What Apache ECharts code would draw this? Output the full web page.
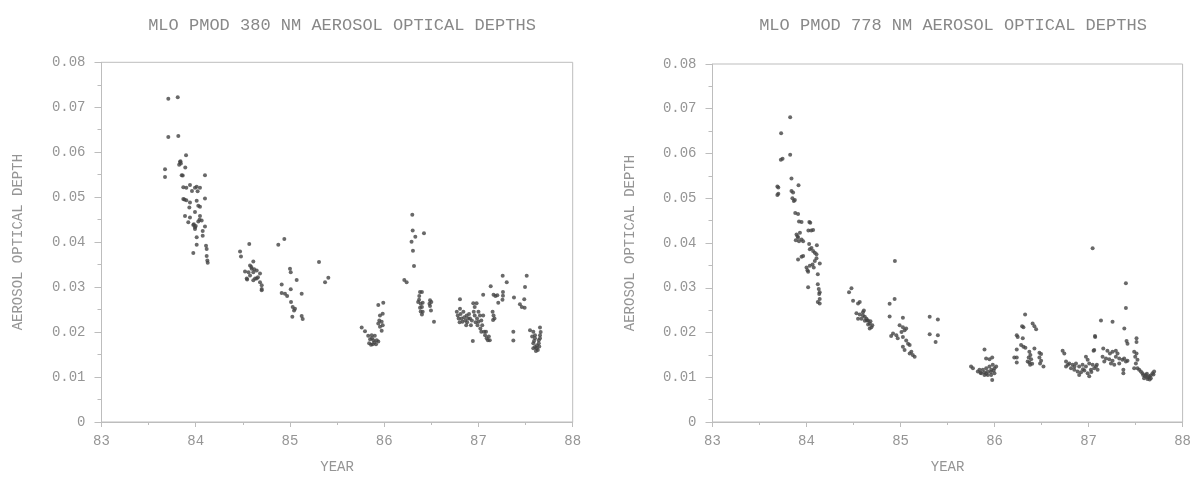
<!DOCTYPE html>
<html>
<head>
<meta charset="utf-8">
<title>MLO PMOD aerosol optical depths</title>
<script src="https://cdn.jsdelivr.net/npm/echarts@6/dist/echarts.min.js"></script>
<style>
  html, body { margin: 0; padding: 0; background: #fff; }
  #chart { width: 1194px; height: 479px; }
</style>
</head>
<body>
<div id="chart"></div>
<script>
// [year, aerosol optical depth]
var pmod380 = [
  [83.674,0.0562],[83.674,0.0545],[83.709,0.0634],[83.815,0.0636],[83.709,0.0719],[83.809,0.0722],
  [83.897,0.0593],[83.833,0.0578],[83.842,0.0575],[83.824,0.0572],[83.838,0.0580],[83.889,0.0566],
  [83.851,0.0549],[83.862,0.0548],[84.098,0.0549],
  [83.868,0.0522],[83.900,0.0521],[83.939,0.0527],[83.992,0.0521],[84.045,0.0521],[84.020,0.0513],[83.960,0.0514],[84.010,0.0523],
  [83.868,0.0496],[83.900,0.0493],[83.939,0.0488],[84.010,0.0492],[84.027,0.0481],[84.045,0.0479],[83.932,0.0477],[84.098,0.0497],[83.880,0.0495],
  [83.992,0.0467],[83.886,0.0458],[84.045,0.0458],[83.939,0.0455],[84.063,0.0448],[84.027,0.0446],[83.921,0.0444],[84.040,0.0450],
  [83.974,0.0438],[83.992,0.0433],[84.098,0.0435],[84.074,0.0425],[83.992,0.0429],[83.980,0.0440],[84.000,0.0436],
  [84.074,0.0414],[84.010,0.0411],[84.010,0.0394],[84.109,0.0392],[84.116,0.0385],[83.974,0.0376],[84.116,0.0369],[84.123,0.0359],[84.127,0.0354],
  [84.470,0.0379],[84.480,0.0368],[84.568,0.0396],[84.611,0.0357],[84.576,0.0348],[84.594,0.0341],[84.523,0.0335],[84.541,0.0319],
  [84.611,0.0333],[84.647,0.0337],[84.682,0.0330],[84.647,0.0319],[84.682,0.0311],[84.700,0.0304],[84.700,0.0296],[84.611,0.0315],
  [84.576,0.0326],[84.560,0.0333],[84.630,0.0319],[84.660,0.0322],[84.545,0.0317],[84.620,0.0340],[84.590,0.0345],[84.700,0.0293],
  [84.876,0.0394],[84.940,0.0407],[85.000,0.0341],[85.008,0.0333],[85.071,0.0316],[84.912,0.0306],[84.912,0.0287],[84.947,0.0285],
  [84.970,0.0280],[85.008,0.0295],[85.124,0.0285],[85.011,0.0267],[85.029,0.0256],[85.043,0.0248],[85.025,0.0234],[85.124,0.0236],
  [85.135,0.0229],[85.053,0.0252],[85.308,0.0356],[85.407,0.0321],[85.372,0.0311],
  [85.761,0.0210],[85.796,0.0202],[85.830,0.0192],[85.867,0.0193],[85.900,0.0192],[85.850,0.0184],[85.885,0.0182],[85.920,0.0182],
  [85.840,0.0175],[85.878,0.0173],[85.913,0.0173],[85.937,0.0179],[85.860,0.0172],[85.895,0.0177],[85.870,0.0186],
  [85.937,0.0260],[85.990,0.0265],[85.984,0.0241],[85.955,0.0237],[85.948,0.0226],[85.973,0.0223],[85.937,0.0219],[85.984,0.0215],
  [85.955,0.0212],[85.973,0.0203],
  [86.213,0.0316],[86.238,0.0311],[86.298,0.0461],[86.302,0.0426],[86.330,0.0412],[86.422,0.0420],[86.290,0.0401],[86.305,0.0381],[86.316,0.0347],
  [86.380,0.0289],[86.400,0.0289],[86.372,0.0280],[86.360,0.0267],[86.387,0.0263],[86.408,0.0265],[86.380,0.0254],[86.400,0.0256],
  [86.387,0.0246],[86.408,0.0245],[86.400,0.0239],[86.370,0.0272],
  [86.486,0.0271],[86.480,0.0263],[86.500,0.0267],[86.486,0.0258],[86.496,0.0248],[86.528,0.0223],
  [86.804,0.0273],[86.770,0.0245],[86.780,0.0237],[86.790,0.0230],[86.804,0.0252],[86.810,0.0240],[86.820,0.0230],[86.830,0.0223],
  [86.840,0.0245],[86.850,0.0233],[86.860,0.0226],[86.875,0.0237],[86.880,0.0222],[86.890,0.0230],[86.910,0.0230],[86.920,0.0215],
  [86.930,0.0226],[86.945,0.0264],[86.950,0.0245],[86.960,0.0237],[86.970,0.0222],[86.980,0.0264],[86.985,0.0230],[86.990,0.0215],
  [87.000,0.0223],[87.016,0.0237],[87.020,0.0208],[87.030,0.0201],[87.040,0.0215],[87.050,0.0237],[87.060,0.0201],[87.070,0.0193],
  [87.080,0.0201],[87.087,0.0186],[87.100,0.0182],[87.110,0.0190],[87.120,0.0182],[86.940,0.0180],[87.050,0.0283],[86.960,0.0256],
  [86.900,0.0240],[86.800,0.0222],[86.870,0.0215],[87.000,0.0245],[87.030,0.0226],
  [87.130,0.0302],[87.160,0.0283],[87.180,0.0280],[87.200,0.0282],[87.210,0.0265],[87.150,0.0245],[87.160,0.0237],[87.170,0.0230],
  [87.155,0.0227],[87.257,0.0325],[87.300,0.0311],[87.260,0.0289],[87.260,0.0281],[87.255,0.0272],[87.377,0.0277],[87.440,0.0262],
  [87.460,0.0256],[87.490,0.0254],[87.370,0.0201],[87.370,0.0181],[87.512,0.0325],[87.494,0.0300],[87.486,0.0273],
  [87.547,0.0204],[87.582,0.0201],[87.600,0.0193],[87.653,0.0210],[87.653,0.0193],[87.600,0.0186],[87.640,0.0182],[87.653,0.0186],
  [87.582,0.0175],[87.600,0.0167],[87.618,0.0164],[87.582,0.0164],[87.610,0.0158],[87.640,0.0175],[87.620,0.0170],[87.590,0.0180],
  [87.630,0.0160],[87.570,0.0190],[87.660,0.0200],[87.645,0.0168]
];

var pmod778 = [
  [83.826,0.0681],[83.730,0.0645],[83.727,0.0586],[83.745,0.0588],[83.826,0.0597],[83.840,0.0544],[83.915,0.0529],
  [83.690,0.0526],[83.700,0.0524],[83.690,0.0507],[83.700,0.0510],
  [83.840,0.0516],[83.857,0.0513],[83.850,0.0500],[83.865,0.0494],[83.876,0.0496],[83.880,0.0467],[83.910,0.0465],
  [83.920,0.0448],[83.947,0.0447],[84.030,0.0447],[84.040,0.0445],[84.020,0.0428],[84.050,0.0428],[84.070,0.0429],
  [83.894,0.0419],[83.930,0.0423],[83.910,0.0412],[83.947,0.0408],[83.920,0.0404],[83.964,0.0404],[83.886,0.0406],[83.905,0.0415],
  [84.028,0.0398],[84.053,0.0389],[84.070,0.0382],[84.088,0.0378],[84.106,0.0375],[84.110,0.0395],[84.035,0.0386],
  [83.910,0.0363],[83.947,0.0369],[83.964,0.0371],
  [84.000,0.0345],[84.010,0.0339],[84.017,0.0336],[84.035,0.0349],[84.064,0.0352],[84.088,0.0360],[84.077,0.0345],[84.106,0.0366],[84.141,0.0354],
  [84.120,0.0330],[84.017,0.0301],[84.120,0.0308],[84.130,0.0297],[84.140,0.0290],[84.135,0.0286],[84.140,0.0275],[84.120,0.0268],[84.140,0.0265],
  [84.478,0.0299],[84.452,0.0290],[84.495,0.0271],[84.548,0.0265],[84.566,0.0268],
  [84.531,0.0243],[84.566,0.0240],[84.600,0.0238],[84.620,0.0235],[84.637,0.0231],[84.654,0.0227],[84.672,0.0220],[84.690,0.0212],
  [84.610,0.0249],[84.643,0.0227],[84.584,0.0231],[84.672,0.0209],[84.700,0.0216],[84.548,0.0231],[84.620,0.0226],[84.655,0.0218],
  [84.600,0.0245],[84.680,0.0225],
  [84.937,0.0275],[84.884,0.0264],[84.884,0.0236],[85.025,0.0233],[84.990,0.0216],[85.025,0.0212],[85.043,0.0205],[85.060,0.0209],[85.010,0.0201],
  [84.920,0.0198],[84.955,0.0194],[84.900,0.0192],[84.970,0.0187],[85.025,0.0190],[85.060,0.0182],[85.080,0.0175],[85.025,0.0168],
  [85.043,0.0161],[85.097,0.0172],[85.115,0.0157],[85.130,0.0150],[85.150,0.0146],[85.097,0.0153],
  [84.940,0.0360],
  [85.310,0.0235],[85.397,0.0229],[85.310,0.0196],[85.397,0.0194],[85.373,0.0179],
  [85.893,0.0162],[85.750,0.0124],[85.770,0.0120],[85.910,0.0142],[85.946,0.0140],[85.975,0.0144],
  [85.822,0.0113],[85.858,0.0109],[85.893,0.0111],[85.928,0.0113],[85.964,0.0117],[85.999,0.0120],[85.875,0.0117],[85.911,0.0120],
  [85.946,0.0124],[85.981,0.0128],[85.840,0.0117],[85.999,0.0109],[85.964,0.0105],[85.928,0.0105],[85.975,0.0094],[85.893,0.0105],
  [86.017,0.0124],[85.850,0.0110],[85.910,0.0108],[85.960,0.0112],[85.990,0.0115],
  [86.325,0.0240],[86.293,0.0214],[86.307,0.0212],[86.405,0.0220],[86.424,0.0214],[86.442,0.0207],[86.236,0.0194],[86.246,0.0190],
  [86.300,0.0187],[86.282,0.0172],[86.307,0.0168],[86.328,0.0166],[86.424,0.0164],[86.236,0.0162],[86.210,0.0144],[86.236,0.0144],[86.236,0.0133],
  [86.370,0.0157],[86.381,0.0150],[86.363,0.0144],[86.389,0.0140],[86.370,0.0133],[86.400,0.0130],[86.352,0.0135],[86.378,0.0128],
  [86.477,0.0155],[86.495,0.0152],[86.477,0.0144],[86.495,0.0137],[86.484,0.0131],[86.520,0.0124],
  [86.724,0.0159],[86.742,0.0153],
  [86.760,0.0135],[86.795,0.0131],[86.830,0.0128],[86.866,0.0131],[86.900,0.0124],[86.936,0.0128],[86.972,0.0124],[87.007,0.0131],
  [87.043,0.0128],[87.078,0.0124],[86.760,0.0124],[86.813,0.0120],[86.848,0.0117],[86.883,0.0113],[86.920,0.0111],[86.955,0.0115],
  [86.990,0.0109],[87.025,0.0117],[87.060,0.0120],[87.096,0.0117],[86.900,0.0105],[87.007,0.0102],[86.972,0.0146],[86.990,0.0139],
  [87.070,0.0190],[87.060,0.0161],[86.780,0.0128],[86.850,0.0124],[86.940,0.0118],[87.030,0.0112],[87.088,0.0128],
  [87.043,0.0388],[87.068,0.0192],[87.053,0.0159],[87.132,0.0227],[87.255,0.0224],[87.156,0.0164],
  [87.200,0.0159],[87.227,0.0153],[87.255,0.0157],[87.290,0.0159],[87.308,0.0153],
  [87.149,0.0146],[87.185,0.0142],[87.220,0.0140],[87.255,0.0137],[87.290,0.0146],[87.326,0.0142],[87.360,0.0139],[87.397,0.0135],
  [87.167,0.0135],[87.238,0.0131],[87.273,0.0128],[87.326,0.0131],[87.379,0.0142],[87.414,0.0137],
  [87.370,0.0117],[87.370,0.0109],
  [87.397,0.0310],[87.397,0.0255],[87.380,0.0209],[87.404,0.0181],[87.414,0.0175],[87.510,0.0187],[87.510,0.0179],
  [87.485,0.0157],[87.510,0.0153],[87.496,0.0146],[87.520,0.0139],[87.503,0.0131],[87.485,0.0120],[87.520,0.0120],
  [87.538,0.0117],[87.573,0.0109],[87.609,0.0105],[87.644,0.0102],[87.680,0.0109],[87.590,0.0098],[87.626,0.0096],[87.662,0.0098],
  [87.556,0.0113],[87.697,0.0113],[87.600,0.0102],[87.630,0.0100],[87.660,0.0104],[87.580,0.0105],[87.620,0.0108],[87.650,0.0095],[87.690,0.0106]
];

var titles = ['MLO PMOD 380 NM AEROSOL OPTICAL DEPTHS', 'MLO PMOD 778 NM AEROSOL OPTICAL DEPTHS'];
var xName = 'YEAR';
var yName = 'AEROSOL OPTICAL DEPTH';

var FONT = 'Liberation Mono';
var LINE = '#bdbdbd';
var TEXT = '#959595';
var DOT = '#444';

function xAxisFor(gridIndex) {
  return {
    gridIndex: gridIndex,
    type: 'value',
    min: 83, max: 88, interval: 1,
    name: xName,
    nameLocation: 'middle',
    nameGap: 38,
    nameTextStyle: { fontFamily: FONT, fontSize: 14, color: TEXT },
    axisLine: { show: true, lineStyle: { color: LINE } },
    axisTick: { show: true, length: 5, lineStyle: { color: LINE } },
    minorTick: { show: true, splitNumber: 2, length: 3, lineStyle: { color: LINE } },
    axisLabel: { fontFamily: FONT, fontSize: 14, color: TEXT, margin: 12 },
    splitLine: { show: false }
  };
}

function yAxisFor(gridIndex, gap) {
  return {
    gridIndex: gridIndex,
    type: 'value',
    min: 0, max: 0.08, interval: 0.01,
    name: yName,
    nameLocation: 'middle',
    nameGap: gap,
    nameTextStyle: { fontFamily: FONT, fontSize: 14, color: TEXT },
    axisLine: { show: true, lineStyle: { color: LINE } },
    axisTick: { show: true, length: 7, lineStyle: { color: LINE } },
    minorTick: { show: true, splitNumber: 2, length: 4, lineStyle: { color: LINE } },
    axisLabel: {
      fontFamily: FONT, fontSize: 14, color: TEXT, margin: 16,
      formatter: function (v) { return v === 0 ? '0' : v.toFixed(2); }
    },
    splitLine: { show: false }
  };
}

var chart = echarts.init(document.getElementById('chart'));
chart.setOption({
  animation: false,
  backgroundColor: '#fff',
  title: [
    { text: titles[0], left: 337, top: 12, textAlign: 'center',
      textStyle: { fontFamily: FONT, fontSize: 17, fontWeight: 'normal', color: '#888' } },
    { text: titles[1], left: 948, top: 12, textAlign: 'center',
      textStyle: { fontFamily: FONT, fontSize: 17, fontWeight: 'normal', color: '#888' } }
  ],
  grid: [
    { left: 101.5, right: 621.3, top: 62.3, bottom: 55, show: true, borderColor: LINE, borderWidth: 1 },
    { left: 712.5, right: 10.7, top: 64, bottom: 53, show: true, borderColor: LINE, borderWidth: 1 }
  ],
  xAxis: [xAxisFor(0), xAxisFor(1)],
  yAxis: [yAxisFor(0, 76), yAxisFor(1, 75)],
  series: [
    { type: 'scatter', xAxisIndex: 0, yAxisIndex: 0, data: pmod380,
      symbol: 'circle', symbolSize: 4, itemStyle: { color: DOT } },
    { type: 'scatter', xAxisIndex: 1, yAxisIndex: 1, data: pmod778,
      symbol: 'circle', symbolSize: 4, itemStyle: { color: DOT } }
  ]
});
</script>
</body>
</html>
